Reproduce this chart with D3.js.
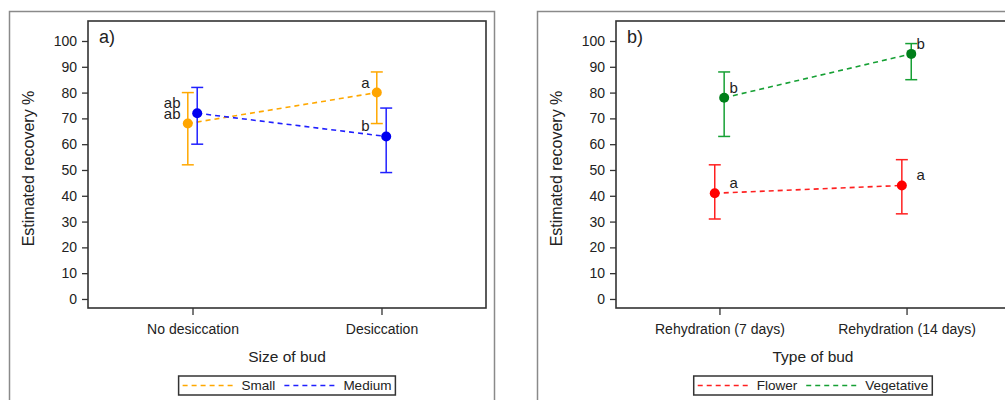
<!DOCTYPE html>
<html>
<head>
<meta charset="utf-8">
<script src="https://cdn.jsdelivr.net/npm/d3@7"></script>
<style>
  body { margin: 0; background: #fff; }
  svg { display: block; font-family: "Liberation Sans", Arial, sans-serif; }
</style>
</head>
<body>
<script>
'use strict';

// y axis ticks (both panels)
const yTicks = [0, 10, 20, 30, 40, 50, 60, 70, 80, 90, 100];

// panel a)
const sizeCategories = ['No desiccation', 'Desiccation'];
const smallMean = [68, 80];
const smallLow = [52, 68];
const smallHigh = [80, 88];
const smallLetters = ['ab', 'a'];
const mediumMean = [72, 63];
const mediumLow = [60, 49];
const mediumHigh = [82, 74];
const mediumLetters = ['ab', 'b'];

// panel b)
const typeCategories = ['Rehydration (7 days)', 'Rehydration (14 days)'];
const flowerMean = [41, 44];
const flowerLow = [31, 33];
const flowerHigh = [52, 54];
const flowerLetters = ['a', 'a'];
const vegMean = [78, 95];
const vegLow = [63, 85];
const vegHigh = [88, 99];
const vegLetters = ['b', 'b'];

const svgWidth = 1005;
const svgHeight = 400;
const plotTop = 21;
const plotBottom = 308;

const svg = d3.select('body').append('svg')
  .attr('width', svgWidth)
  .attr('height', svgHeight);

const panels = [
  {
    frameX: 9.5, frameW: 485, left: 88, width: 398, tag: 'a)',
    categories: sizeCategories, xTitle: 'Size of bud',
    letterAnchor: 'end', letterDx: -12,
    series: [
      { name: 'Small', color: '#FFA800', dot: '#FFA500', mean: smallMean, low: smallLow, high: smallHigh, letters: smallLetters, shift: -4.7 },
      { name: 'Medium', color: '#2020FF', dot: '#0000F0', mean: mediumMean, low: mediumLow, high: mediumHigh, letters: mediumLetters, shift: 4.7 }
    ]
  },
  {
    frameX: 537.5, frameW: 520, left: 616, width: 394, tag: 'b)',
    categories: typeCategories, xTitle: 'Type of bud',
    letterAnchor: 'start', letterDx: 10,
    series: [
      { name: 'Flower', color: '#FF2020', dot: '#FF0000', mean: flowerMean, low: flowerLow, high: flowerHigh, letters: flowerLetters, shift: -4.7 },
      { name: 'Vegetative', color: '#16A034', dot: '#007F1A', mean: vegMean, low: vegLow, high: vegHigh, letters: vegLetters, shift: 4.7 }
    ]
  }
];

const y = d3.scaleLinear()
  .domain([-3.5, 107.75])
  .range([plotBottom, plotTop]);

panels.forEach(p => {
  const g = svg.append('g');

  // outer frame
  g.append('rect')
    .attr('x', p.frameX)
    .attr('y', 11.5)
    .attr('width', p.frameW)
    .attr('height', 420)
    .attr('fill', 'none')
    .attr('stroke', '#8a8a8a')
    .attr('stroke-width', 1.5);

  const x = d3.scalePoint()
    .domain(p.categories)
    .range([p.left, p.left + p.width])
    .padding(0.553);

  // axes
  const yAxis = g.append('g')
    .attr('transform', `translate(${p.left}, 0)`)
    .call(d3.axisLeft(y).tickValues(yTicks).tickSize(6).tickPadding(5));
  yAxis.select('.domain').remove();

  const xAxis = g.append('g')
    .attr('transform', `translate(0, ${plotBottom})`)
    .call(d3.axisBottom(x).tickSize(7).tickPadding(9));
  xAxis.select('.domain').remove();

  [yAxis, xAxis].forEach(a => {
    a.attr('font-family', null).attr('font-size', null);
    a.selectAll('text').attr('fill', '#222').style('font-size', '14px');
    a.selectAll('line').attr('stroke', '#333').attr('stroke-width', 1.3);
  });

  // plot frame
  g.append('rect')
    .attr('x', p.left)
    .attr('y', plotTop)
    .attr('width', p.width)
    .attr('height', plotBottom - plotTop)
    .attr('fill', 'none')
    .attr('stroke', '#333')
    .attr('stroke-width', 1.6);

  // titles
  g.append('text')
    .attr('text-anchor', 'middle')
    .attr('transform', `translate(${p.left - 60}, ${(plotTop + plotBottom) / 2 + 4}) rotate(-90)`)
    .attr('dy', '0.35em')
    .style('font-size', '16px')
    .attr('fill', '#222')
    .text('Estimated recovery %');

  g.append('text')
    .attr('text-anchor', 'middle')
    .attr('x', p.left + p.width / 2)
    .attr('y', 362)
    .style('font-size', '15.5px')
    .attr('fill', '#222')
    .text(p.xTitle);

  g.append('text')
    .attr('x', p.left + 11)
    .attr('y', 43)
    .style('font-size', '18px')
    .attr('fill', '#222')
    .text(p.tag);

  // series
  p.series.forEach(s => {
    const pts = p.categories.map((c, i) => ({
      cx: x(c) + s.shift,
      tick: x(c),
      mean: s.mean[i],
      low: s.low[i],
      high: s.high[i],
      letter: s.letters[i]
    }));

    g.append('path')
      .datum(pts)
      .attr('fill', 'none')
      .attr('stroke', s.color)
      .attr('stroke-width', 1.6)
      .attr('stroke-dasharray', '5,4')
      .attr('d', d3.line().x(d => d.cx).y(d => y(d.mean)));

    const bars = g.append('g')
      .attr('stroke', s.color)
      .attr('stroke-width', 1.5);
    bars.selectAll('.bar').data(pts).join('line')
      .attr('x1', d => d.cx).attr('x2', d => d.cx)
      .attr('y1', d => y(d.low)).attr('y2', d => y(d.high));
    bars.selectAll('.capHi').data(pts).join('line')
      .attr('x1', d => d.cx - 6).attr('x2', d => d.cx + 6)
      .attr('y1', d => y(d.high)).attr('y2', d => y(d.high));
    bars.selectAll('.capLo').data(pts).join('line')
      .attr('x1', d => d.cx - 6).attr('x2', d => d.cx + 6)
      .attr('y1', d => y(d.low)).attr('y2', d => y(d.low));

    g.selectAll(null).data(pts).join('circle')
      .attr('cx', d => d.cx)
      .attr('cy', d => y(d.mean))
      .attr('r', 5)
      .attr('fill', s.dot);

    g.selectAll(null).data(pts).join('text')
      .attr('x', d => d.tick + p.letterDx)
      .attr('y', d => y(d.mean) - 5)
      .attr('text-anchor', p.letterAnchor)
      .style('font-size', '15px')
      .attr('fill', '#222')
      .text(d => d.letter);
  });

  // legend
  const lg = g.append('g');
  const lineLen = 54;
  let cur = 4;
  p.series.forEach((s, i) => {
    if (i > 0) cur += 9;
    lg.append('line')
      .attr('x1', cur).attr('x2', cur + lineLen)
      .attr('y1', 0).attr('y2', 0)
      .attr('stroke', s.color)
      .attr('stroke-width', 1.5)
      .attr('stroke-dasharray', '5,4');
    cur += lineLen + 5;
    const t = lg.append('text')
      .attr('x', cur)
      .attr('y', 0)
      .attr('dy', '0.35em')
      .style('font-size', '13.5px')
      .attr('fill', '#222')
      .text(s.name);
    cur += t.node().getComputedTextLength();
  });
  cur += 4;
  lg.insert('rect', ':first-child')
    .attr('x', 0).attr('y', -9.5)
    .attr('width', cur).attr('height', 19)
    .attr('fill', '#fff')
    .attr('stroke', '#333')
    .attr('stroke-width', 1.5);
  lg.attr('transform', `translate(${p.left + p.width / 2 - cur / 2}, 385.5)`);
});
</script>
</body>
</html>
